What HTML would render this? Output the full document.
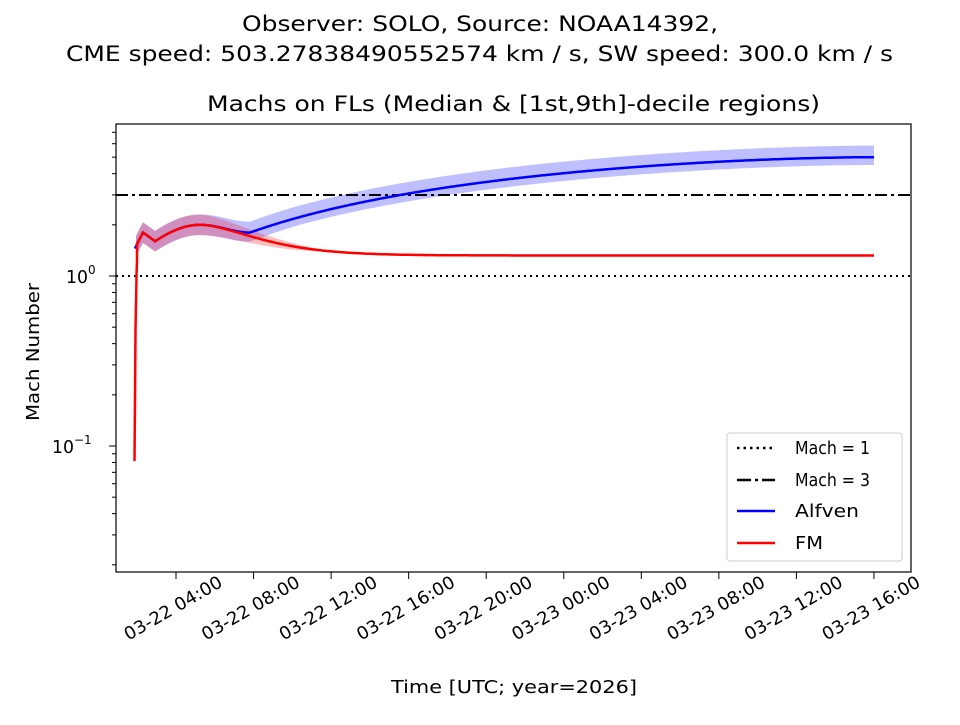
<!DOCTYPE html>
<html><head><meta charset="utf-8"><style>
body{margin:0;background:#fff}
svg text{font-family:"DejaVu Sans","Liberation Sans",sans-serif;fill:#000}
</style></head><body>
<svg id="s" width="960" height="720" xmlns="http://www.w3.org/2000/svg">
<rect width="960" height="720" fill="#fff"/>
<text x="242" y="31" font-size="21" textLength="476" lengthAdjust="spacingAndGlyphs">Observer: SOLO, Source: NOAA14392,</text>
<text x="66" y="61" font-size="21" textLength="827" lengthAdjust="spacingAndGlyphs">CME speed: 503.27838490552574 km / s, SW speed: 300.0 km / s</text>
<text x="207" y="111" font-size="21" textLength="613" lengthAdjust="spacingAndGlyphs">Machs on FLs (Median &amp; [1st,9th]-decile regions)</text>
<g id="plot"></g>
<rect x="116" y="124" width="795" height="448" fill="none" stroke="#000" stroke-width="1.2"/>
<text x="0" y="0" font-size="17.5" textLength="138" lengthAdjust="spacingAndGlyphs" transform="translate(39 421) rotate(-90)">Mach Number</text>
<text x="391" y="693" font-size="17.5" textLength="246" lengthAdjust="spacingAndGlyphs">Time [UTC; year=2026]</text>
<g id="ax"></g>
<rect x="727" y="433" width="175" height="128" fill="#fff" stroke="#ccc" rx="3"/>
<line x1="737" y1="448" x2="775" y2="448" stroke="#000" stroke-width="2.5" stroke-dasharray="2.5,4"/>
<text x="795" y="454" font-size="17.5" textLength="75" lengthAdjust="spacingAndGlyphs">Mach = 1</text>
<line x1="737" y1="480" x2="775" y2="480" stroke="#000" stroke-width="2.5" stroke-dasharray="14,4,3,4"/>
<text x="795" y="486" font-size="17.5" textLength="75" lengthAdjust="spacingAndGlyphs">Mach = 3</text>
<line x1="737" y1="511" x2="775" y2="511" stroke="#00f" stroke-width="2.5"/>
<text x="795" y="517" font-size="17.5" textLength="64" lengthAdjust="spacingAndGlyphs">Alfven</text>
<line x1="737" y1="543" x2="775" y2="543" stroke="#f00" stroke-width="2.5"/>
<text x="795" y="549" font-size="17.5" textLength="28" lengthAdjust="spacingAndGlyphs">FM</text>
</svg>
<script>
const NS="http://www.w3.org/2000/svg";
function el(p,t,a,txt){const e=document.createElementNS(NS,t);for(const k in a)e.setAttribute(k,a[k]);if(txt)e.textContent=txt;document.getElementById(p).appendChild(e);}
const Y=v=>276-170*Math.log10(v);
[0.01,0.1,1].forEach(d=>{for(let m=1;m<10;m++){const v=d*m;const y=Y(v);if(y<124||y>572)continue;
 el("ax","line",{x1:116,x2:m==1?109:112,y1:y,y2:y,stroke:"#000","stroke-width":1});}});
el("ax","text",{x:66,y:283,"font-size":17.5,textLength:22,lengthAdjust:"spacingAndGlyphs"},"10");
el("ax","text",{x:88,y:274,"font-size":12},"0");
el("ax","text",{x:52,y:453,"font-size":17.5,textLength:22,lengthAdjust:"spacingAndGlyphs"},"10");
el("ax","text",{x:74,y:444,"font-size":12},"−1");
const labs=["03-22 04:00","03-22 08:00","03-22 12:00","03-22 16:00","03-22 20:00","03-23 00:00","03-23 04:00","03-23 08:00","03-23 12:00","03-23 16:00"];
labs.forEach((l,i)=>{const x=176+i*77.55;el("ax","line",{x1:x,x2:x,y1:572,y2:579,stroke:"#000"});
 el("ax","text",{x:0,y:6,"font-size":17.5,"text-anchor":"middle",textLength:110,lengthAdjust:"spacingAndGlyphs",transform:`translate(${x-3} 608) rotate(-30)`},l);});
function blue(x){
 if(x<143) return 1.45+0.35*(x-135)/8;
 if(x<155) return 1.8-0.2*(x-143)/12;
 if(x<200) return 1.6+0.4*Math.sin((x-155)/45*Math.PI/2);
 if(x<250) return 2.0-0.2*(1-Math.cos((x-200)/50*Math.PI))/2;
 const t=(x-250)/624; return 1.8+3.2*(1-Math.pow(1-t,1.7));
}
function red(x){
 if(x<200) return blue(x);
 const t=x-200; return 1.32+0.68*Math.exp(-t/35)*(1+t/35);
}
function path(f,x0,x1){let d="";for(let x=x0;x<=x1;x+=1){d+=(d?"L":"M")+x+","+Y(f(x)).toFixed(1);}return d;}
function band(f,lo,hi,x0,x1){let d="";for(let x=x0;x<=x1;x++)d+=(d?"L":"M")+x+","+Y(f(x)*hi(x)).toFixed(1);
 for(let x=x1;x>=x0;x--)d+="L"+x+","+Y(f(x)*lo(x)).toFixed(1);return d+"Z";}
const s=(x,a,b,x0,x1)=>x<=x0?a:(x>=x1?b:a+(b-a)*(x-x0)/(x1-x0));
el("plot","path",{d:band(blue,x=>s(x,0.87,0.9,200,300),x=>s(x,1.15,1.17,200,300),136,874),fill:"#00f","fill-opacity":0.25,stroke:"none"});
el("plot","path",{d:band(red,x=>s(x,0.87,0.985,210,320),x=>s(x,1.15,1.015,200,320),136,874),fill:"#f00","fill-opacity":0.25,stroke:"none"});
el("plot","line",{x1:116,x2:911,y1:276,y2:276,stroke:"#000","stroke-width":2,"stroke-dasharray":"2,4"});
el("plot","line",{x1:116,x2:911,y1:195,y2:195,stroke:"#000","stroke-width":2,"stroke-dasharray":"12,4,3,4"});
el("plot","path",{d:path(blue,135,874),fill:"none",stroke:"#00f","stroke-width":2.5});
el("plot","path",{d:"M134.5,461 L135,400 L135.5,330 L136.5,276 L137,260 "+path(red,137,874).replace("M","L"),fill:"none",stroke:"#f00","stroke-width":2.5});
</script>
</body></html>
